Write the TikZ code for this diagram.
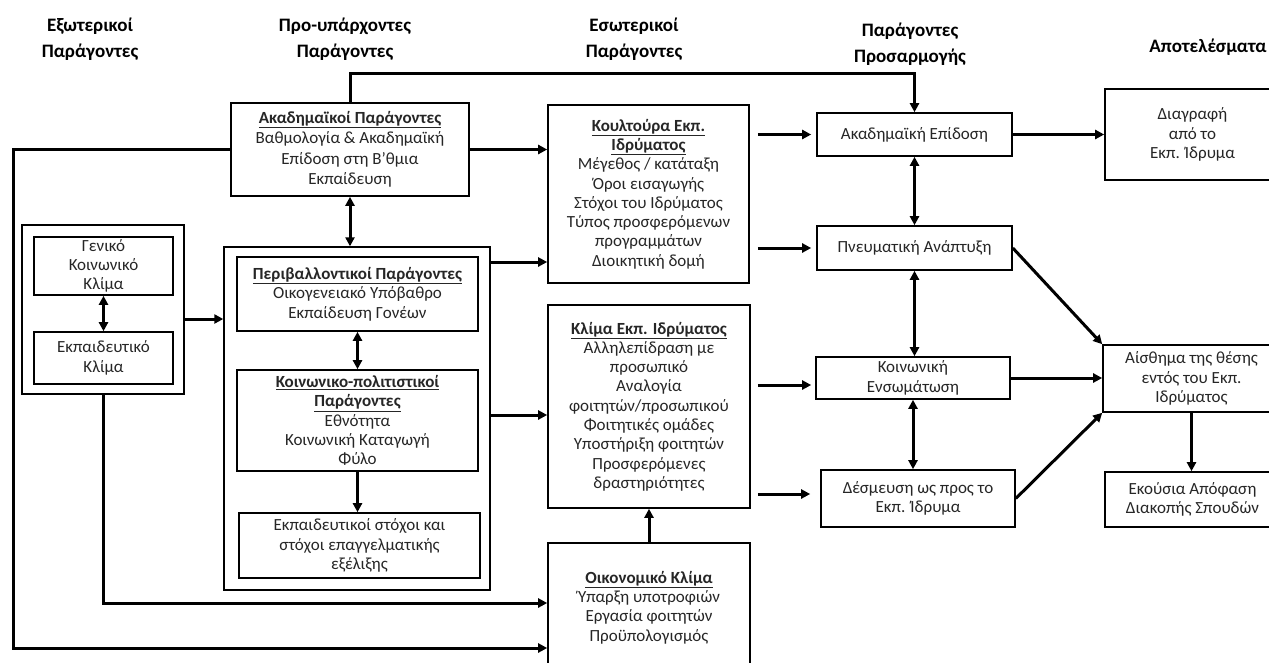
\documentclass[tikz,border=0pt]{standalone}
\usepackage{fontspec}
\setmainfont{Carlito}
\usetikzlibrary{arrows.meta}
\definecolor{ink}{HTML}{262626}
\newcommand\ttl[1]{\underline{\textbf{#1}}}
\begin{document}
\begin{tikzpicture}[x=1pt,y=-1pt,
  head/.style={align=center,inner sep=0pt,text=black,font={\fontsize{19}{26}\selectfont\bfseries}},
  box/.style={draw=black,line width=1.6pt,fill=white,inner sep=0pt,align=center,text=ink,
    font={\fontsize{17}{19.3}\selectfont}},
  frame/.style={draw=black,line width=1.4pt,inner sep=0pt},
  conn/.style={line width=3pt,-{Triangle[length=9pt,width=9pt]}},
  dconn/.style={line width=3pt,{Triangle[length=9pt,width=9pt]}-{Triangle[length=9pt,width=9pt]}},
]
\useasboundingbox (0,0) rectangle (1269,662);
\clip (0,0) rectangle (1269,662);

% column headings
\node[head] (h1) at (90,39.5) {Εξωτερικοί\\Παράγοντες};
\node[head] (h2) at (345,39.5) {Προ-υπάρχοντες\\Παράγοντες};
\node[head] (h3) at (634,39.5) {Εσωτερικοί\\Παράγοντες};
\node[head] (h4) at (910,44) {Παράγοντες\\Προσαρμογής};
\node[head] (h5) at (1208,47) {Αποτελέσματα};

% external factors
\node[frame,minimum width=162pt,minimum height=169pt] (ext) at (103,309.5) {};
\node[box,minimum width=139pt,minimum height=58pt] (gen) at (103.5,266) {Γενικό\\Κοινωνικό\\Κλίμα};
\node[box,minimum width=139pt,minimum height=52pt] (edu) at (103.5,358) {Εκπαιδευτικό\\Κλίμα};

% pre-existing factors
\node[box,minimum width=238pt,minimum height=93pt,font={\fontsize{17}{20.5}\selectfont}] (akad) at (350,149.5)
  {\ttl{Ακαδημαϊκοί Παράγοντες}\\Βαθμολογία \& Ακαδημαϊκή\\Επίδοση στη Β’θμια\\Εκπαίδευση};
\node[frame,minimum width=266pt,minimum height=343pt] (pre) at (357,418.5) {};
\node[box,minimum width=241pt,minimum height=74pt] (periv) at (357.5,294)
  {\ttl{Περιβαλλοντικοί Παράγοντες}\\Οικογενειακό Υπόβαθρο\\Εκπαίδευση Γονέων};
\node[box,minimum width=241pt,minimum height=101pt] (koin) at (357.5,420.5)
  {\ttl{Κοινωνικο-πολιτιστικοί}\\\ttl{Παράγοντες}\\Εθνότητα\\Κοινωνική Καταγωγή\\Φύλο};
\node[box,minimum width=241pt,minimum height=65pt] (ekp) at (359.5,545.5)
  {Εκπαιδευτικοί στόχοι και\\στόχοι επαγγελματικής\\εξέλιξης};

% internal factors
\node[box,minimum width=201pt,minimum height=178pt] (kult) at (648.5,194)
  {\ttl{Κουλτούρα Εκπ.}\\\ttl{Ιδρύματος}\\Μέγεθος / κατάταξη\\Όροι εισαγωγής\\Στόχοι του Ιδρύματος\\Τύπος προσφερόμενων\\προγραμμάτων\\Διοικητική δομή};
\node[box,minimum width=202pt,minimum height=203pt] (klima) at (649,406.5)
  {\ttl{Κλίμα Εκπ. Ιδρύματος}\\Αλληλεπίδραση με\\προσωπικό\\Αναλογία\\φοιτητών/προσωπικού\\Φοιτητικές ομάδες\\Υποστήριξη φοιτητών\\Προσφερόμενες\\δραστηριότητες};
\node[box,minimum width=202pt,minimum height=129pt] (oik) at (649,607.5)
  {\ttl{Οικονομικό Κλίμα}\\Ύπαρξη υποτροφιών\\Εργασία φοιτητών\\Προϋπολογισμός};

% adjustment factors
\node[box,minimum width=195pt,minimum height=43pt] (ae) at (914.5,134.5) {Ακαδημαϊκή Επίδοση};
\node[box,minimum width=195pt,minimum height=44pt] (pn) at (914.5,248) {Πνευματική Ανάπτυξη};
\node[box,minimum width=194pt,minimum height=42pt] (ke) at (913,378) {Κοινωνική\\Ενσωμάτωση};
\node[box,minimum width=194pt,minimum height=57pt] (de) at (918,498.5) {Δέσμευση ως προς το\\Εκπ. Ίδρυμα};

% outcomes
\node[box,minimum width=175pt,minimum height=91pt] (diag) at (1192.5,134.5) {Διαγραφή\\από το\\Εκπ. Ίδρυμα};
\node[box,minimum width=177pt,minimum height=67pt] (ais) at (1191.5,378.5) {Αίσθημα της θέσης\\εντός του Εκπ.\\Ιδρύματος};
\node[box,minimum width=175pt,minimum height=55pt] (ek) at (1192.5,499.5) {Εκούσια Απόφαση\\Διακοπής Σπουδών};

% routing levels
\coordinate (yTop) at (0,73);
\coordinate (xLeft) at (13,0);
\coordinate (yBot) at (0,648);
\coordinate (yEco) at (0,603);
\coordinate (yExt) at (0,319);
\coordinate (yPreA) at (0,262);
\coordinate (yPreB) at (0,415);
\coordinate (yKlA) at (0,385);
\coordinate (yKlB) at (0,494);

% connectors
\draw[conn] (akad.north) -- (akad.north |- yTop) -| (ae.north);
\draw[conn] (akad.west) -| (xLeft |- yBot) -- (oik.west |- yBot);
\draw[conn] (akad.east) -- (kult.west |- akad.east);
\draw[dconn] (akad.south) -- (akad.south |- pre.north);
\draw[dconn] (gen.south) -- (edu.north);
\draw[conn] (ext.east |- yExt) -- (pre.west |- yExt);
\draw[conn] (ext.south) |- (oik.west |- yEco);
\draw[conn] (pre.east |- yPreA) -- (kult.west |- yPreA);
\draw[conn] (pre.east |- yPreB) -- (klima.west |- yPreB);
\draw[dconn] (periv.south) -- (koin.north);
\draw[conn] (koin.south) -- (koin.south |- ekp.north);
\draw[conn] (oik.north) -- (klima.south);
\draw[conn,shorten <=8pt,shorten >=5pt] (kult.east |- ae.west) -- (ae.west);
\draw[conn,shorten <=8pt,shorten >=5pt] (kult.east |- pn.west) -- (pn.west);
\draw[conn,shorten <=7pt,shorten >=4pt] (klima.east |- yKlA) -- (ke.west |- yKlA);
\draw[conn,shorten <=7pt,shorten >=10pt] (klima.east |- yKlB) -- (de.west |- yKlB);
\draw[dconn] (ae.south) -- (pn.north);
\draw[dconn] (pn.south) -- (pn.south |- ke.north);
\draw[dconn] (ke.south) -- (ke.south |- de.north);
\draw[conn] (ae.east) -- (diag.west);
\draw[conn] (pn.east) -- (ais.north west);
\draw[conn] (ke.east) -- (ais.west |- ke.east);
\draw[conn] (de.east) -- (ais.south west);
\draw[conn] (ais.south) -- (ais.south |- ek.north);
\end{tikzpicture}
\end{document}
